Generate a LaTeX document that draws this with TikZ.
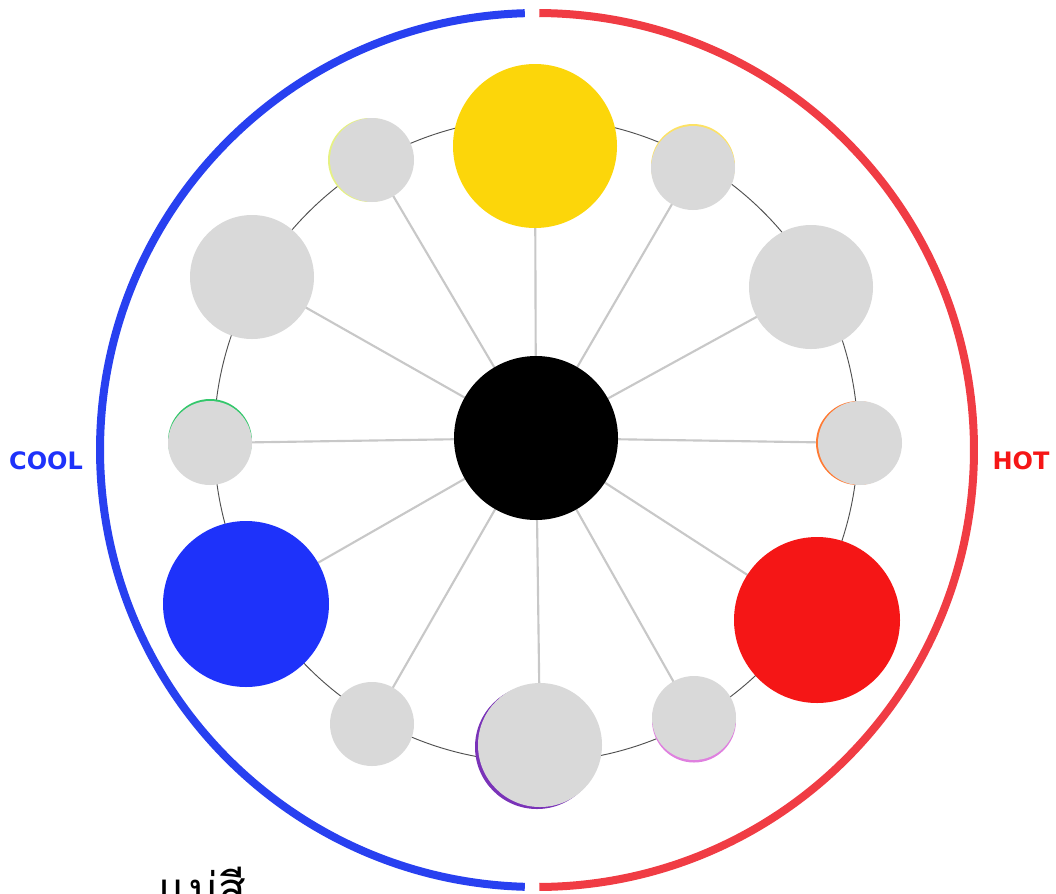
\documentclass[tikz,border=0pt]{standalone}
\usepackage{fontspec}
\usetikzlibrary{calc}
\newfontfamily\thaifont[Script=Thai]{Loma}
\newfontfamily\labelfont{DejaVu Sans}
\definecolor{cgray}{RGB}{217,217,217}
\definecolor{cyellow}{RGB}{252,214,10}
\definecolor{cblue}{RGB}{30,50,250}
\definecolor{cred}{RGB}{245,22,22}
\definecolor{ringblue}{RGB}{40,64,240}
\definecolor{ringred}{RGB}{240,60,68}
\definecolor{spoke}{RGB}{200,200,200}
\definecolor{thinring}{RGB}{80,80,80}
\begin{document}
\begin{tikzpicture}[x=0.75pt,y=-0.75pt,
  dot/.style={circle,inner sep=0pt,minimum size=#1*0.75pt,fill=cgray},
  spokeline/.style={draw=spoke,line width=1.6pt}]
\useasboundingbox (0,0) rectangle (1056,893);
\begin{scope}
\clip (0,0) rectangle (1056,893);
\coordinate (o) at (537,450);
% outer ring halves
\draw[ringblue,line width=6pt] ($(o)+(268.4:437)$) arc[start angle=268.4,end angle=91.6,radius=437];
\draw[ringred,line width=6pt] ($(o)+(270.3:437)$) arc[start angle=270.3,end angle=449.7,radius=437];
% thin ring
\draw[thinring,line width=0.7pt] (536,440) circle[radius=322];
\coordinate (c) at (536,438);
% satellite coordinates
\coordinate (p90) at (535,146);
\coordinate (p60) at (693,168);
\coordinate (p30) at (811,287);
\coordinate (p0) at (860,443);
\coordinate (pm30) at (817,620);
\coordinate (pm60) at (694,718);
\coordinate (pm90) at (540,745);
\coordinate (pm120) at (372,724);
\coordinate (pm150) at (246,604);
\coordinate (p180) at (210,443);
\coordinate (p150) at (252,277);
\coordinate (p120) at (372,160);
% spokes
\foreach \p in {p90,p60,p30,p0,pm30,pm60,pm90,pm120,pm150,p180,p150,p120}
  \draw[spokeline] (c) -- (\p);
% slivers
\fill[green!45!teal!80] ($(p180)+(0,-2)$) circle[radius=42];
\fill[orange!70!red!80] ($(p0)+(-2,0)$) circle[radius=42];
\fill[violet!70!blue!80] ($(pm90)+(-3,2)$) circle[radius=62];
\fill[violet!50!magenta!50] ($(pm60)+(0,2.5)$) circle[radius=42];
\fill[yellow!80!green!50] ($(p120)+(-2,0)$) circle[radius=42];
\fill[yellow!70!orange!60] ($(p60)+(0,-2)$) circle[radius=42];
% circles
\node[dot=164,fill=cyellow] (n90) at (p90) {};
\node[dot=84] (n60) at (p60) {};
\node[dot=124] (n30) at (p30) {};
\node[dot=84] (n0) at (p0) {};
\node[dot=166,fill=cred] (nm30) at (pm30) {};
\node[dot=84] (nm60) at (pm60) {};
\node[dot=124] (nm90) at (pm90) {};
\node[dot=84] (nm120) at (pm120) {};
\node[dot=166,fill=cblue] (nm150) at (pm150) {};
\node[dot=84] (n180) at (p180) {};
\node[dot=124] (n150) at (p150) {};
\node[dot=84] (n120) at (p120) {};
\node[dot=164,fill=black] (center) at (c) {};
% labels
\node[text=cblue,font=\labelfont\bfseries\fontsize{18}{20}\selectfont] (cool) at (46,461) {COOL};
\node[text=cred,font=\labelfont\bfseries\fontsize{18}{20}\selectfont] (hot) at (1021,461) {HOT};
\node[anchor=base east,font=\thaifont\fontsize{34}{36}\selectfont,inner sep=0pt] (title) at (246,905) {แม่สี};
\end{scope}
\end{tikzpicture}
\end{document}
